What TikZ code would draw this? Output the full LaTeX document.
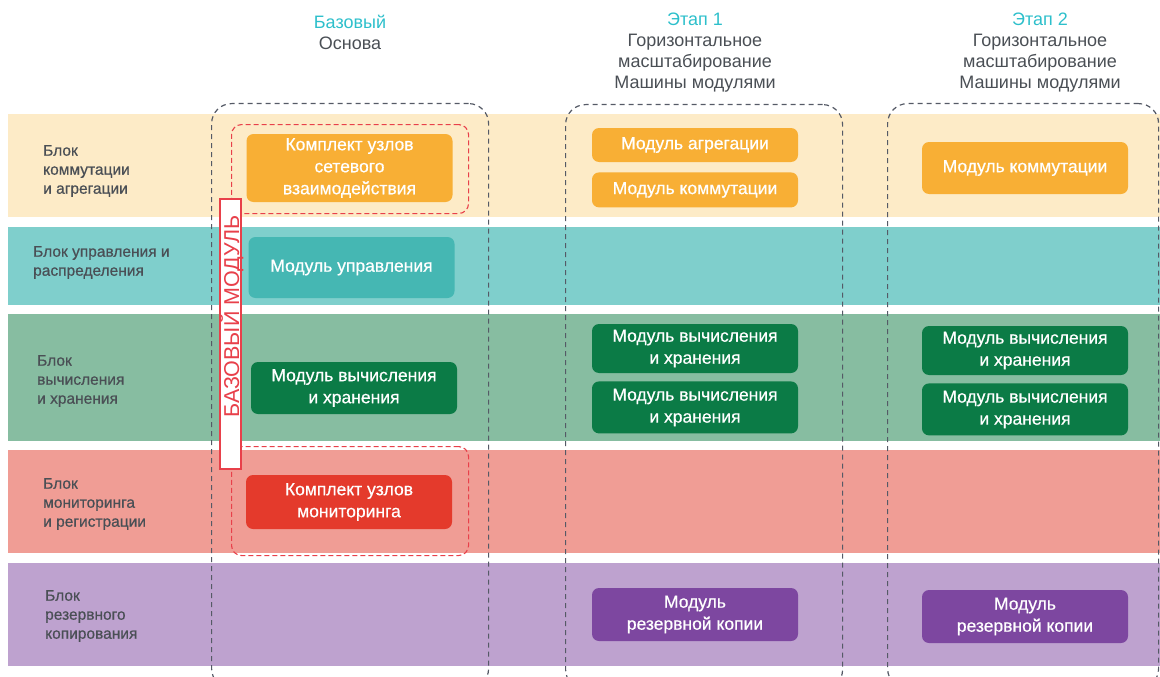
\documentclass[tikz,border=0pt]{standalone}
\usepackage{fontspec}
\setmainfont{Liberation Sans}
\newfontfamily\medfont[FakeBold=0.6]{Liberation Sans}
\usepackage{tikz}
\usetikzlibrary{positioning}
\usepackage{xcolor}
\definecolor{bandbeige}{RGB}{253,235,199}
\definecolor{bandteal}{RGB}{127,207,204}
\definecolor{bandgreen}{RGB}{135,189,161}
\definecolor{bandsalmon}{RGB}{240,157,149}
\definecolor{bandviolet}{RGB}{190,162,207}
\definecolor{modorange}{RGB}{248,175,53}
\definecolor{modteal}{RGB}{69,183,179}
\definecolor{modgreen}{RGB}{11,123,70}
\definecolor{modred}{RGB}{228,58,44}
\definecolor{modviolet}{RGB}{125,71,160}
\definecolor{headteal}{RGB}{45,191,203}
\definecolor{inkgray}{RGB}{74,79,85}
\definecolor{framegray}{RGB}{85,90,102}
\definecolor{framered}{RGB}{232,64,74}
\tikzset{
  band/.style={rectangle, inner sep=0pt, minimum width=1152pt, anchor=north west},
  rowlabel/.style={anchor=west, align=left, inner sep=0pt, text=inkgray,
                   font=\medfont\fontsize{15.5}{19}\selectfont},
  colhead/.style={align=center, inner sep=0pt, text=inkgray,
                  font=\fontsize{18}{21}\selectfont},
  colframe/.style={rectangle, rounded corners=20pt, draw=framegray, line width=1.2pt,
                   dash pattern=on 5pt off 4pt, anchor=north west, inner sep=0pt},
  redframe/.style={rectangle, rounded corners=10pt, draw=framered, line width=1.1pt,
                   dash pattern=on 5pt off 3pt, anchor=north west, inner sep=0pt},
  module/.style={rectangle, rounded corners=7pt, inner sep=0pt, minimum width=206pt,
                 text=white, align=center, font=\medfont\fontsize{17.5}{22}\selectfont},
  modorange/.style={module, fill=modorange},
  modteal/.style={module, fill=modteal},
  modgreen/.style={module, fill=modgreen},
  modred/.style={module, fill=modred},
  modviolet/.style={module, fill=modviolet},
  basebox/.style={rectangle, draw=framered, line width=1.4pt, fill=white, inner sep=0pt},
  basetext/.style={rotate=90, inner sep=0pt, text=framered, font=\fontsize{21.5}{21.5}\selectfont},
}

\begin{document}
\begin{tikzpicture}[x=1pt, y=-1pt]
\useasboundingbox (0,0) rectangle (1160,677);

% ---- Rows (bands) ----
\node[band, fill=bandbeige,  minimum height=103pt] (rowSwitch)  at (8,114) {};
\node[band, fill=bandteal,   minimum height=78pt]  (rowControl) at (8,227) {};
\node[band, fill=bandgreen,  minimum height=127pt] (rowCompute) at (8,314) {};
\node[band, fill=bandsalmon, minimum height=103pt] (rowMonitor) at (8,450) {};
\node[band, fill=bandviolet, minimum height=103pt] (rowBackup)  at (8,563) {};

% ---- Row labels ----
\node[rowlabel] (lblSwitch)  at (43,171)   {Блок\\коммутации\\и агрегации};
\node[rowlabel] (lblControl) at (33,262.5) {Блок управления и\\распределения};
\node[rowlabel] (lblCompute) at (37,381)   {Блок\\вычисления\\и хранения};
\node[rowlabel] (lblMonitor) at (43,504)   {Блок\\мониторинга\\и регистрации};
\node[rowlabel] (lblBackup)  at (45,616)   {Блок\\резервного\\копирования};

% ---- Column headers ----
\node[colhead] (headBase)   at (350,32) {\textcolor{headteal}{Базовый}\\Основа};
\node[colhead] (headStage1) at (695,53) {\textcolor{headteal}{Этап 1}\\Горизонтальное\\масштабирование\\Машины модулями};
\node[colhead] (headStage2) at (1040,53) {\textcolor{headteal}{Этап 2}\\Горизонтальное\\масштабирование\\Машины модулями};

% ---- Column frames ----
\node[colframe, minimum width=277pt, minimum height=585pt] (frameBase)   at (211,103) {};
\node[colframe, minimum width=277pt, minimum height=585pt] (frameStage1) at (565,104) {};
\node[colframe, minimum width=271pt, minimum height=585pt] (frameStage2) at (887,103) {};

% ---- Base column ----
\node[redframe, minimum width=237pt, minimum height=89pt]  (kitNetFrame) at (231,124) {};
\node[redframe, minimum width=237pt, minimum height=109pt] (kitMonFrame) at (231,446) {};
\node[modorange, minimum height=68pt] (kitNet)    at (349.5,168) {Комплект узлов\\сетевого\\взаимодействия};
\node[modteal,   minimum height=61pt] (ctrlBase)  at (351.5,267.5) {Модуль управления};
\node[modgreen,  minimum height=52pt] (compBase)  at (354,388) {Модуль вычисления\\и хранения};
\node[modred,    minimum height=54pt] (kitMon)    at (349,502) {Комплект узлов\\мониторинга};
\node[basebox, minimum width=21pt, minimum height=270pt] (baseMod) at (230.5,334) {};
\node[basetext] (baseModText) at (231.5,316.5) {БАЗОВЫЙ МОДУЛЬ};

% ---- Stage 1 ----
\node[modorange, minimum height=34pt] (aggrA)   at (695,145) {Модуль агрегации};
\node[modorange, minimum height=35pt, below=10pt of aggrA] (switchA) {Модуль коммутации};
\node[modgreen,  minimum height=49pt] (compA1)  at (695,348.5) {Модуль вычисления\\и хранения};
\node[modgreen,  minimum height=52pt, below=8pt of compA1] (compA2) {Модуль вычисления\\и хранения};
\node[modviolet, minimum height=53pt] (backupA) at (695,614.5) {Модуль\\резервной копии};

% ---- Stage 2 ----
\node[modorange, minimum height=52pt] (switchB) at (1025,168) {Модуль коммутации};
\node[modgreen,  minimum height=49pt] (compB1)  at (1025,350.5) {Модуль вычисления\\и хранения};
\node[modgreen,  minimum height=52pt, below=8pt of compB1] (compB2) {Модуль вычисления\\и хранения};
\node[modviolet, minimum height=53pt] (backupB) at (1025,616.5) {Модуль\\резервной копии};
\end{tikzpicture}
\end{document}
